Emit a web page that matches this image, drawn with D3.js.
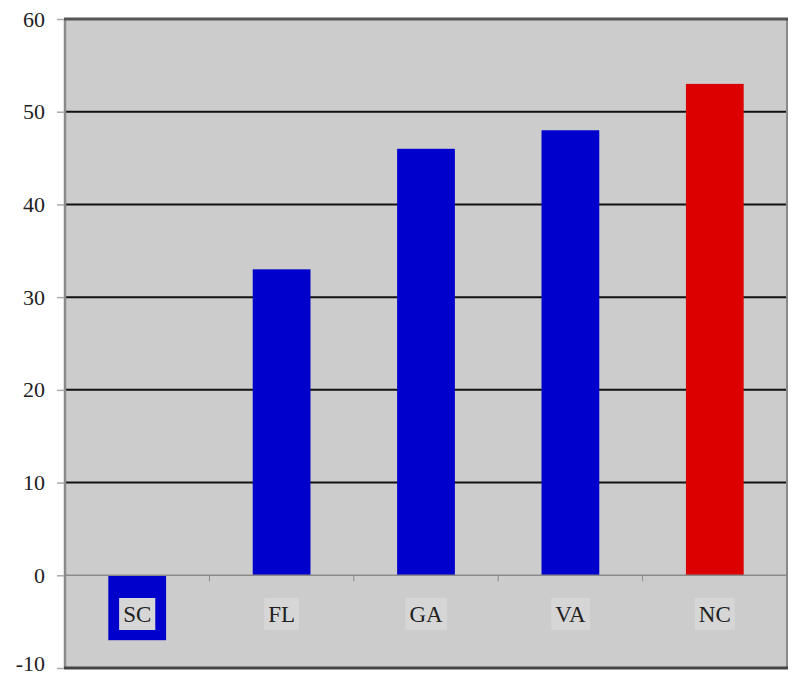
<!DOCTYPE html>
<html><head><meta charset="utf-8">
<script src="https://cdn.jsdelivr.net/npm/d3@7"></script>
<style>body{margin:0;background:#fff}</style>
</head><body>
<svg id="c" width="794" height="679"></svg>
<script>
const categories = ["SC","FL","GA","VA","NC"];
const values = [-7,33,46,48,53];
const barColors = ["#0000cc","#0000cc","#0000cc","#0000cc","#dd0000"];
const yTicks = [-10,0,10,20,30,40,50,60];

const svg = d3.select("#c");
const L=65,R=787,T=19,B=668;
const x = d3.scaleBand().domain(categories).range([L,R]).paddingInner(0.6).paddingOuter(0.3);
const y = d3.scaleLinear().domain([-10,60]).range([B,T]);
const font = "'Liberation Serif', 'DejaVu Serif', serif";

svg.append("rect").attr("x",L).attr("y",T).attr("width",R-L).attr("height",B-T).attr("fill","#cccccc");

svg.append("g").selectAll("line").data(yTicks.filter(d=>d>0&&d<60)).join("line")
  .attr("x1",L).attr("x2",R).attr("y1",d=>y(d)).attr("y2",d=>y(d))
  .attr("stroke","#111").attr("stroke-width",2);

svg.append("g").selectAll("rect").data(values).join("rect")
  .attr("x",(d,i)=>x(categories[i])).attr("width",x.bandwidth())
  .attr("y",d=>y(Math.max(0,d))).attr("height",d=>Math.abs(y(d)-y(0)))
  .attr("fill",(d,i)=>barColors[i]);

svg.append("line").attr("x1",L).attr("x2",R).attr("y1",y(0)).attr("y2",y(0)).attr("stroke","#8a8a8a").attr("stroke-width",1.5);
svg.append("g").selectAll("line").data(d3.range(1,categories.length)).join("line")
  .attr("x1",d=>L+d*(R-L)/categories.length).attr("x2",d=>L+d*(R-L)/categories.length)
  .attr("y1",y(0)).attr("y2",y(0)+6).attr("stroke","#8a8a8a").attr("stroke-width",1);

svg.append("line").attr("x1",L).attr("x2",L).attr("y1",T).attr("y2",B).attr("stroke","#8a8a8a").attr("stroke-width",2.5);
svg.append("line").attr("x1",R).attr("x2",R).attr("y1",T).attr("y2",B).attr("stroke","#8a8a8a").attr("stroke-width",2);
svg.append("line").attr("x1",L-1).attr("x2",R+1).attr("y1",T).attr("y2",T).attr("stroke","#555").attr("stroke-width",3);
svg.append("line").attr("x1",L-1).attr("x2",R+1).attr("y1",B).attr("y2",B).attr("stroke","#444").attr("stroke-width",3);

const yAxis = d3.axisLeft(y).tickValues(yTicks).tickSize(7).tickPadding(12).tickFormat(d=>String(d));
const ya = svg.append("g").attr("transform",`translate(${L-1},0)`).call(yAxis);
ya.select(".domain").remove();
ya.selectAll(".tick line").attr("stroke","#aaa").attr("stroke-width",1.5);
ya.selectAll(".tick text").attr("font-family",font).attr("font-size",22).attr("fill","#222")
  .attr("dy",d=>d===-10?"0.1em":"0.32em");

const lab = svg.append("g").selectAll("g").data(categories).join("g")
  .attr("transform",d=>`translate(${x(d)+x.bandwidth()/2},${614})`);
lab.each(function(d){
  const g=d3.select(this);
  const t=g.append("text").attr("text-anchor","middle").attr("dy","0.35em")
    .attr("font-family",font).attr("font-size",23).attr("fill","#222").text(d);
  const bb=t.node().getBBox();
  g.insert("rect","text").attr("x",bb.x-4).attr("y",-16).attr("width",bb.width+8).attr("height",32).attr("fill","#d6d6d6");
});
</script>
</body></html>
